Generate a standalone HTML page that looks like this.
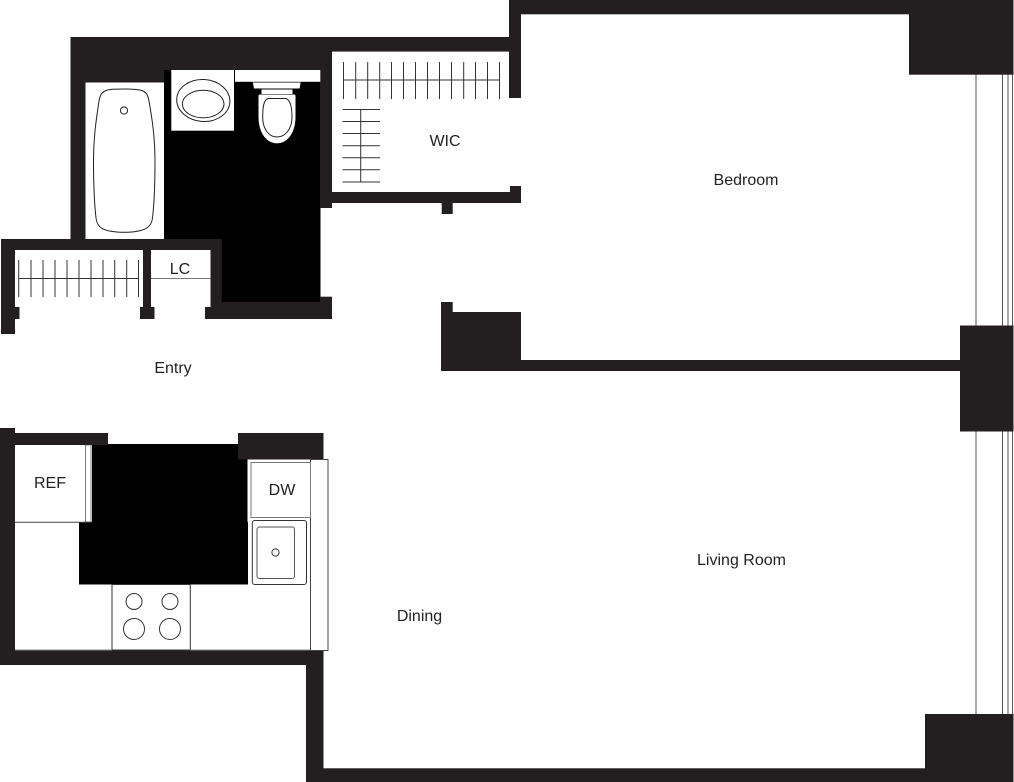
<!DOCTYPE html>
<html>
<head>
<meta charset="utf-8">
<style>
html,body{margin:0;padding:0;background:#fff;width:1014px;height:782px;overflow:hidden}
svg{display:block}
text{font-family:"Liberation Sans",sans-serif;font-size:16px;fill:#231f20;text-anchor:middle}
</style>
</head>
<body>
<svg width="1014" height="782" viewBox="0 0 1014 782" xmlns="http://www.w3.org/2000/svg">
<rect width="1014" height="782" fill="#fff"/>

<!-- window lines -->
<g stroke="#555" stroke-width="1" fill="none">
<path d="M976 70V330M1002.5 70V330M1008 70V330M1012.5 70V330"/>
<path d="M976 428V718M1002.5 428V718M1008 428V718M1012.5 428V718"/>
</g>

<!-- black floors -->
<g fill="#000">
<rect x="164" y="70" width="156.5" height="170"/>
<rect x="221" y="240" width="99.5" height="62"/>
<rect x="92" y="444" width="155.5" height="80"/>
<rect x="79" y="522" width="169" height="62.5"/>
</g>

<!-- walls -->
<g fill="#231f20">
<rect x="70.5" y="37" width="261.5" height="33"/>
<rect x="332" y="37" width="177.5" height="14.6"/>
<rect x="70.5" y="37" width="15" height="203"/>
<rect x="85" y="70" width="79" height="12.5"/>
<rect x="509" y="0" width="12" height="98"/>
<rect x="509" y="0" width="504.5" height="14.3"/>
<rect x="909" y="0" width="104.5" height="74.7"/>
<rect x="320" y="37" width="12" height="171"/>
<rect x="320" y="192" width="201" height="11"/>
<rect x="510" y="186" width="11" height="17"/>
<rect x="441.7" y="203" width="11" height="11"/>
<rect x="1" y="239" width="220.7" height="11"/>
<rect x="1" y="239" width="14" height="95"/>
<rect x="1" y="307" width="18.5" height="12"/>
<rect x="143" y="250" width="8" height="58"/>
<rect x="140" y="307" width="14.5" height="12"/>
<rect x="210.5" y="250" width="11.2" height="60"/>
<rect x="205" y="307" width="127" height="12"/>
<rect x="221" y="302" width="100" height="6"/>
<rect x="320" y="296.7" width="12" height="22.3"/>
<rect x="441" y="302" width="11.7" height="69"/>
<rect x="441" y="312" width="80" height="59"/>
<rect x="441" y="360" width="520" height="11"/>
<rect x="960" y="325.5" width="53.5" height="106"/>
<rect x="0" y="428" width="15" height="237"/>
<rect x="0" y="433" width="108" height="12"/>
<rect x="238" y="433" width="85.5" height="26.5"/>
<rect x="0" y="650" width="323.5" height="15"/>
<rect x="306" y="650" width="17.5" height="132"/>
<rect x="306" y="768.3" width="707.5" height="13.7"/>
<rect x="925" y="714" width="88.5" height="68"/>
</g>

<!-- bathroom fixtures -->
<rect x="85.7" y="82.5" width="77.6" height="156.5" fill="#fff"/>
<path d="M112 89.3C126 88.6 138 88.8 143 91C147 93 148 96 149 101C153 124 155 140 155 160C155 185 154 205 152.5 218C151.5 227 146 232 124 232.3C102 232 97 227 96 218C94.5 205 93.5 185 93.5 160C93.5 140 95.5 124 99 101C100 96 101 93 105 91C107 90 109 89.5 112 89.3Z" fill="#fff" stroke="#231f20" stroke-width="1"/>
<circle cx="124" cy="110.5" r="3.6" fill="#fff" stroke="#231f20" stroke-width="1"/>

<rect x="171.3" y="70" width="62.7" height="60.7" fill="#fff"/>
<ellipse cx="203.3" cy="100.5" rx="26.6" ry="21" fill="#fff" stroke="#231f20" stroke-width="1" transform="rotate(4 203.3 100.5)"/>
<ellipse cx="203.2" cy="104" rx="20.8" ry="13.8" fill="#fff" stroke="#231f20" stroke-width="1"/>

<rect x="235" y="70" width="85.3" height="11.8" fill="#fff"/>
<path d="M252.8 82.5H300.6L299.6 88.5H254Z" fill="#fff"/>
<rect x="261.5" y="89.5" width="31" height="4.5" fill="#fff"/>
<path d="M258.5 96C258.5 95 259 94.5 260 94.5H294C295 94.5 295.5 95 295.5 96V117C295.5 132 288 143.3 277 143.3C266 143.3 258.5 132 258.5 117Z" fill="#fff"/>
<path d="M268 98.5H286C290 100 292 106 292 117C292 128 286 137 277 137C268 137 262.7 128 262.7 117C262.7 106 264 100 268 98.5Z" fill="#fff" stroke="#231f20" stroke-width="1"/>

<!-- closet rods -->
<g stroke="#333" stroke-width="1" fill="none">
<path d="M18.7 260V297M31 260V297M43 260V297M55 260V297M67 260V297M79 260V297M91 260V297M103 260V297M114.7 260V297M126.7 260V297M138.5 260V297"/>
<path d="M18.7 278.5H138.5"/>
<path d="M343.5 62V99M355.7 62V99M367.7 62V99M379.7 62V99M391.5 62V99M403.5 62V99M415.5 62V99M427.5 62V99M439.5 62V99M451.5 62V99M463.7 62V99M475.5 62V99M487.5 62V99M499.5 62V99"/>
<path d="M343.5 80H499.5"/>
<path d="M342.5 109.5H380M342.5 121.5H380M342.5 133.5H380M342.5 145.7H380M342.5 157.7H380M342.5 169.7H380M342.5 182H380M360.7 109.5V182"/>
<path d="M151 278.5H210.5" stroke="#777"/>
</g>

<!-- kitchen fixtures -->
<rect x="15" y="445" width="70.5" height="77" fill="#fff"/>
<rect x="85.5" y="445" width="5.5" height="77" fill="#fff" stroke="#444" stroke-width="0.7"/>
<path d="M15 522.3H91" stroke="#444" stroke-width="1" fill="none"/>

<rect x="248" y="459.5" width="62.5" height="191" fill="#fff"/>
<rect x="310.5" y="459.5" width="17.5" height="191" fill="#fff" stroke="#444" stroke-width="1"/>
<rect x="251" y="462.5" width="59.5" height="55" fill="#fff" stroke="#777" stroke-width="1"/>
<rect x="252.3" y="520.5" width="54.2" height="64" rx="2.5" fill="#fff" stroke="#333" stroke-width="1"/>
<rect x="257" y="527" width="37.5" height="51.5" rx="2.5" fill="#fff" stroke="#555" stroke-width="1"/>
<circle cx="275.5" cy="552.5" r="3.6" fill="#fff" stroke="#333" stroke-width="1"/>

<rect x="112" y="584.5" width="78.3" height="65.5" fill="#fff" stroke="#333" stroke-width="1"/>
<g fill="#fff" stroke="#333" stroke-width="1">
<circle cx="134" cy="601.5" r="8"/>
<circle cx="170" cy="601.5" r="8"/>
<circle cx="134" cy="629" r="10.5"/>
<circle cx="170" cy="629" r="10.5"/>
</g>
<path d="M15 650H112M190 650H310" stroke="#888" stroke-width="1" fill="none"/>

<!-- labels -->
<text x="445" y="146">WIC</text>
<text x="746" y="185">Bedroom</text>
<text x="180" y="274">LC</text>
<text x="173" y="373">Entry</text>
<text x="50" y="488">REF</text>
<text x="282" y="495">DW</text>
<text x="419.5" y="621">Dining</text>
<text x="741.5" y="565">Living Room</text>
</svg>
</body>
</html>
